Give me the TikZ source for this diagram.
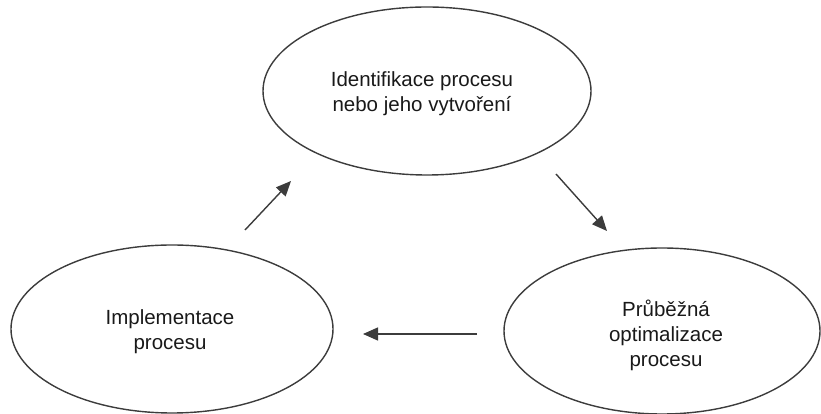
\documentclass[tikz,border=0pt]{standalone}
\usepackage{fontspec}
\setmainfont{Liberation Sans}
\usetikzlibrary{shapes.geometric,arrows.meta}
\definecolor{linegray}{RGB}{60,60,60}
\definecolor{textgray}{RGB}{25,25,25}
\begin{document}
\begin{tikzpicture}[x=1pt,y=1pt,
  oval/.style={draw=linegray, line width=1.4pt, ellipse, inner sep=0pt},
  lbl/.style={align=center, font=\fontsize{20.5}{25}\selectfont, text=textgray, inner sep=0pt},
  flow/.style={draw=linegray, line width=1.4pt, -{Triangle[length=15pt,width=13pt]}}]
\useasboundingbox (0,0) rectangle (821,414);
% ellipses
\node[oval, minimum width=328pt, minimum height=168pt] (ident) at (427,323) {};
\node[oval, minimum width=322pt, minimum height=168pt] (impl) at (172,85) {};
\node[oval, minimum width=316pt, minimum height=166pt] (optim) at (662,83) {};
% labels
\node[lbl] (identtext) at (422,320) {Identifikace procesu\\nebo jeho vytvoření};
\node[lbl] (impltext) at (170,82) {Implementace\\procesu};
\node[lbl] (optimtext) at (666,78.5) {Průběžná\\optimalizace\\procesu};
% arrow end points
\coordinate (a1s) at (245,184);
\coordinate (a1e) at (291,233);
\coordinate (a2s) at (556,240);
\coordinate (a2e) at (607,183);
\coordinate (a3s) at (477,80);
\coordinate (a3e) at (363,80);
\draw[flow] (a1s) -- (a1e);
\draw[flow] (a2s) -- (a2e);
\draw[flow] (a3s) -- (a3e);
\end{tikzpicture}
\end{document}
